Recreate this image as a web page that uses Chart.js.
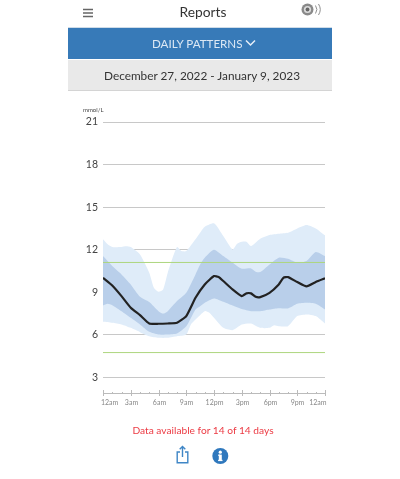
<!DOCTYPE html>
<html>
<head>
<meta charset="utf-8">
<title>Reports</title>
<script src="https://cdn.jsdelivr.net/npm/chart.js@4"></script>
<style>
  html, body { margin: 0; padding: 0; background: #fff; }
  body { width: 400px; height: 479px; position: relative; overflow: hidden; font-family: Lato, sans-serif; }
  #daily-chart { position: absolute; left: 0; top: 0; }
  .abs { position: absolute; white-space: nowrap; }
  #title { left: 71px; width: 264px; top: 2px; text-align: center; font-size: 13.8px; line-height: 19px; color: #333; }
  #band-blue { left: 68px; width: 264px; top: 27px; height: 32px; background: #377ab8; border-top: 1px solid #cfdce8; box-sizing: border-box; }
  #band-grey { left: 68px; width: 264px; top: 60px; height: 30px; background: #e9e9e9; border-bottom: 1px solid #d4d4d4; }
  #report-name { left: 152px; top: 35px; font-size: 11.6px; line-height: 17px; color: #dce8f4; }
  #date-range { left: 70px; width: 264px; top: 66px; text-align: center; font-size: 11.8px; line-height: 20px; color: #333; }
  #unit { left: 83px; top: 105px; font-size: 6px; line-height: 9px; color: #444; }
  #notice { left: 68px; width: 270px; top: 422px; text-align: center; font-size: 10.2px; line-height: 16px; color: #ec3b44; }
</style>
</head>
<body>
<canvas id="daily-chart" width="400" height="479"></canvas>

<div class="abs" id="title">Reports</div>
<svg class="abs" style="left:82px;top:8px" width="12" height="10" viewBox="0 0 12 10">
  <path d="M1 1.5H11M1 5H11M1 8.5H11" stroke="#666" stroke-width="1.4" fill="none"/>
</svg>
<svg class="abs" style="left:300px;top:1px" width="23" height="17" viewBox="0 0 23 17">
  <circle cx="7.5" cy="8.5" r="6" fill="#8a8a8a"/>
  <circle cx="7.5" cy="8.5" r="3.6" fill="#dcdcdc"/>
  <circle cx="7.5" cy="8.5" r="1.9" fill="#666"/>
  <path d="M15.5 4.5a7 7 0 0 1 0 8M18.5 3a10 10 0 0 1 0 11" stroke="#8f8f8f" stroke-width="1" fill="none"/>
</svg>

<div class="abs" id="band-blue"></div>
<div class="abs" id="report-name">DAILY PATTERNS</div>
<svg class="abs" style="left:244.5px;top:39px" width="11" height="8" viewBox="0 0 11 8">
  <path d="M1 1.5L5.5 6L10 1.5" stroke="#e6eff8" stroke-width="1.5" fill="none"/>
</svg>
<div class="abs" id="band-grey"></div>
<div class="abs" id="date-range">December 27, 2022 - January 9, 2023</div>
<div class="abs" id="unit">mmol/L</div>
<div class="abs" id="notice">Data available for 14 of 14 days</div>

<svg class="abs" style="left:176px;top:445px" width="13" height="19" viewBox="0 0 13 19">
  <path d="M4 7H1.2V17.8H11.8V7H9" stroke="#3f86c6" stroke-width="1.4" fill="none"/>
  <path d="M6.5 12V1.8M3.7 4.3L6.5 1.5L9.3 4.3" stroke="#3f86c6" stroke-width="1.4" fill="none"/>
</svg>
<svg class="abs" style="left:212px;top:448px" width="17" height="17" viewBox="0 0 17 17">
  <circle cx="8.3" cy="8" r="8" fill="#2f78bd"/>
  <rect x="6.8" y="6.6" width="3" height="6.4" fill="#fff"/>
  <rect x="6.1" y="11.8" width="4.4" height="1.3" fill="#fff"/>
  <rect x="6.1" y="6.6" width="2" height="1.2" fill="#fff"/>
  <circle cx="8.3" cy="4.2" r="1.6" fill="#fff"/>
</svg>

<script>
const yTickValues = [3, 6, 9, 12, 15, 18, 21];
const hourLabels = { 0: "12am", 3: "3am", 6: "6am", 9: "9am", 12: "12pm", 15: "3pm", 18: "6pm", 21: "9pm", 24: "12am" };
const targetHigh = 11.1;
const targetLow = 4.75;

const outerTopHours = [0, 0.5, 1, 2, 2.5, 3, 4, 5, 5.5, 6, 6.5, 7, 8, 8.5, 9, 10, 10.5, 11, 12, 13, 14, 14.5, 15, 15.5, 16, 17, 18, 19, 20, 21, 22, 23, 24];
const outerTop = [12.73, 12.38, 12.19, 12.19, 12.24, 12.19, 11.67, 10.38, 9.32, 9.04, 9.2, 10.38, 12.19, 11.9, 11.9, 12.73, 13.2, 13.62, 13.86, 12.96, 12.02, 12.42, 12.56, 12.56, 12.26, 12.78, 13.04, 13.13, 13.2, 13.5, 13.74, 13.5, 13.01];

const innerTopHours = [0, 1, 2, 3, 4, 5, 6, 6.5, 7, 8, 9, 10, 10.5, 11, 12, 13, 14, 15, 16, 16.5, 17, 18, 19, 20, 21, 22, 23, 24];
const innerTop = [11.55, 10.85, 10.26, 9.55, 8.68, 8.31, 7.67, 7.5, 7.67, 8.38, 8.96, 10.26, 10.96, 11.44, 12, 11.55, 11.08, 10.66, 10.68, 10.45, 10.42, 10.96, 11.44, 11.36, 11.08, 11.2, 11.84, 11.55];

const medianHours = [0, 1, 2, 3, 4, 5, 6, 7, 8, 9, 10, 11, 12, 12.5, 13, 14, 15, 15.5, 16, 16.5, 17, 18, 19, 19.5, 20, 21, 22, 23, 24];
const median = [10.02, 9.48, 8.73, 7.91, 7.39, 6.8, 6.78, 6.8, 6.85, 7.32, 8.61, 9.55, 10.14, 10.07, 9.79, 9.2, 8.73, 8.92, 8.92, 8.68, 8.66, 8.96, 9.55, 10.02, 10.07, 9.72, 9.41, 9.72, 9.98];

const innerBottomHours = [0, 0.5, 1, 2, 3, 4, 5, 6, 7, 8, 9, 10, 10.5, 11, 12, 13, 14, 15, 16, 17, 18, 19, 20, 21, 22, 23, 24];
const innerBottom = [8.07, 8.19, 8.09, 7.67, 7.2, 6.73, 6.21, 6.02, 6.02, 6.09, 6.6, 7.79, 8.02, 8.26, 8.56, 8.33, 8.07, 7.82, 7.67, 7.67, 7.79, 7.88, 7.86, 8.19, 8.26, 8.19, 7.79];

const outerBottomHours = [0, 1, 2, 3, 4, 5, 6, 7, 8, 9, 9.5, 10, 11, 11.5, 12, 13, 14, 15, 16, 17, 18, 18.5, 19, 20, 21, 22, 23, 24];
const outerBottom = [6.92, 6.85, 6.73, 6.49, 6.19, 5.9, 5.79, 5.79, 5.9, 6.02, 6.73, 7.08, 7.67, 7.55, 7.2, 6.49, 6.33, 6.73, 6.8, 6.49, 6.49, 6.68, 6.61, 6.61, 7.32, 7.44, 7.32, 6.8];

function points(hours, values) {
    return hours.map((h, i) => ({ x: h, y: values[i] }));
}

function band(hours, values, color, fillTarget, order) {
    return {
        data: points(hours, values),
        borderWidth: 0,
        borderColor: "rgba(0, 0, 0, 0)",
        backgroundColor: color,
        fill: fillTarget,
        tension: 0.2,
        pointRadius: 0,
        order: order
    };
}

function targetLine(value) {
    return {
        data: [{ x: 0, y: value }, { x: 24, y: value }],
        borderColor: "#add67e",
        borderWidth: 1,
        pointRadius: 0,
        fill: false,
        order: 2
    };
}

// hour ticks and labels sit on the x axis; end labels are kept inside the plot edges
const hourAxis = {
    id: "hourAxis",
    afterDraw(chart) {
        const ctx = chart.ctx;
        const xScale = chart.scales.x;
        const bottom = chart.chartArea.bottom;
        ctx.save();
        ctx.strokeStyle = "#bbbbbb";
        ctx.lineWidth = 1;
        ctx.font = "7px Lato";
        ctx.fillStyle = "#888888";
        ctx.textAlign = "center";
        ctx.textBaseline = "middle";
        xScale.ticks.forEach(tick => {
            const px = Math.round(xScale.getPixelForValue(tick.value)) + 0.5;
            const major = tick.value % 3 === 0;
            ctx.beginPath();
            ctx.moveTo(px, bottom - (major ? 3 : 1));
            ctx.lineTo(px, bottom + (major ? 3 : 1));
            ctx.stroke();
            const label = hourLabels[tick.value];
            if (label) {
                const half = ctx.measureText(label).width / 2;
                const lx = Math.min(Math.max(px, 101 + half), 326.5 - half);
                ctx.fillText(label, lx, bottom + 10);
            }
        });
        ctx.restore();
    }
};

new Chart(document.getElementById("daily-chart"), {
    type: "line",
    data: {
        datasets: [
            band(outerTopHours, outerTop, "#dfecf9", 1, 5),
            band(outerBottomHours, outerBottom, "rgba(0, 0, 0, 0)", false, 5),
            band(innerTopHours, innerTop, "#b9cfea", 3, 4),
            band(innerBottomHours, innerBottom, "rgba(0, 0, 0, 0)", false, 4),
            targetLine(targetHigh),
            targetLine(targetLow),
            {
                data: points(medianHours, median),
                borderColor: "#222222",
                borderWidth: 2.2,
                tension: 0.15,
                pointRadius: 0,
                fill: false,
                order: 1
            }
        ]
    },
    options: {
        responsive: false,
        animation: false,
        layout: { padding: { left: 0, top: 122, right: 75, bottom: 86 } },
        plugins: { legend: { display: false }, tooltip: { enabled: false } },
        scales: {
            x: {
                type: "linear",
                min: 0,
                max: 24,
                ticks: { display: false, stepSize: 1 },
                grid: { display: false },
                border: { display: true, color: "#bbbbbb" },
                afterFit: scale => { scale.height = 0; }
            },
            y: {
                min: 1.9,
                max: 21,
                afterBuildTicks: scale => { scale.ticks = yTickValues.map(v => ({ value: v })); },
                ticks: {
                    padding: 5,
                    color: "#444444",
                    font: { family: "Lato", size: 10.5 }
                },
                grid: { color: "#c8c8c8", drawTicks: false },
                border: { display: false },
                afterFit: scale => { scale.width = 103; }
            }
        }
    },
    plugins: [hourAxis]
});
</script>
</body>
</html>
